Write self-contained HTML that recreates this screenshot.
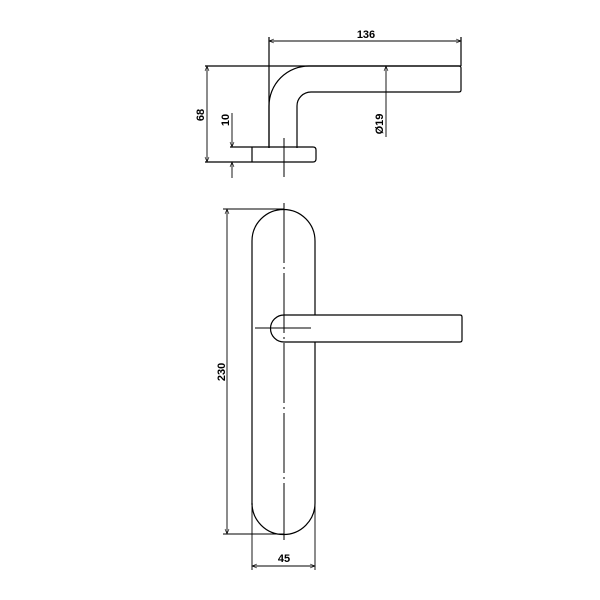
<!DOCTYPE html>
<html><head><meta charset="utf-8"><style>
html,body{margin:0;padding:0;background:#fff}
svg{display:block}
text{font-family:"Liberation Sans",Arial,sans-serif;font-weight:bold;font-size:11px;fill:#000}
</style></head><body>
<svg width="600" height="600" viewBox="0 0 600 600">
<defs>
<marker id="a" viewBox="0 0 10 10" refX="10" refY="5" markerWidth="8" markerHeight="5" orient="auto-start-reverse" markerUnits="userSpaceOnUse"><path d="M0,1 L10,5 L0,9" fill="none" stroke="#000" stroke-width="1.2"/></marker>
</defs>
<g fill="none" stroke="#000" stroke-width="1.2">
<!-- Top view -->
<line x1="269" y1="37" x2="269" y2="148"/>
<path d="M269,148 V106 A40,40 0 0 1 309,66"/>
<line x1="205" y1="66" x2="461" y2="66"/>
<path d="M309,66 H459 Q461,66 461,68 V90 Q461,92 459,92 H311 A14,14 0 0 0 297,106 V148"/>
<line x1="461" y1="37" x2="461" y2="66"/>
<path d="M230,147 H313 Q316,147 316,150 V159 Q316,162 313,162 H205"/>
<line x1="252" y1="147" x2="252" y2="162"/>
<line x1="284" y1="138" x2="284" y2="177" stroke-width="1"/>
</g>
<g fill="none" stroke="#000" stroke-width="0.9">
<line x1="269" y1="41" x2="461" y2="41" marker-start="url(#a)" marker-end="url(#a)"/>
<line x1="207" y1="66" x2="207" y2="162" marker-start="url(#a)" marker-end="url(#a)"/>
<line x1="232" y1="113" x2="232" y2="147" marker-end="url(#a)"/>
<line x1="232" y1="178" x2="232" y2="162" marker-end="url(#a)"/>
<line x1="386" y1="137" x2="386" y2="66" marker-end="url(#a)"/>
</g>
<text x="366" y="38" text-anchor="middle">136</text>
<text transform="translate(204,115) rotate(-90)" text-anchor="middle">68</text>
<text transform="translate(229,120) rotate(-90)" text-anchor="middle">10</text>
<text transform="translate(383,124) rotate(-90)" text-anchor="middle">Ø19</text>

<!-- Front view -->
<g fill="none" stroke="#000" stroke-width="1.2">
<path d="M252,505 V241 A31.5,31.5 0 0 1 315,241 V315"/>
<path d="M315,342 V503 A31.5,31.5 0 0 1 252,503"/>
<path d="M284,315 H460 Q462,315 462,317 V340 Q462,342 460,342 H284 A13.5,13.5 0 0 1 284,315"/>
<line x1="255" y1="328" x2="311" y2="328" stroke-width="1"/>
<line x1="284" y1="203" x2="284" y2="540" stroke-width="1" stroke-dasharray="60,4,2,4"/>
<line x1="223" y1="209" x2="284" y2="209" stroke-width="0.9"/>
<line x1="223" y1="534" x2="284" y2="534" stroke-width="0.9"/>
<line x1="252" y1="505" x2="252" y2="570" stroke-width="0.9"/>
<line x1="315" y1="503" x2="315" y2="570" stroke-width="0.9"/>
</g>
<g fill="none" stroke="#000" stroke-width="0.9">
<line x1="227" y1="209" x2="227" y2="534" marker-start="url(#a)" marker-end="url(#a)"/>
<line x1="252" y1="566" x2="315" y2="566" marker-start="url(#a)" marker-end="url(#a)"/>
</g>
<text transform="translate(225,372) rotate(-90)" text-anchor="middle">230</text>
<text x="284" y="562" text-anchor="middle">45</text>
</svg>
</body></html>
